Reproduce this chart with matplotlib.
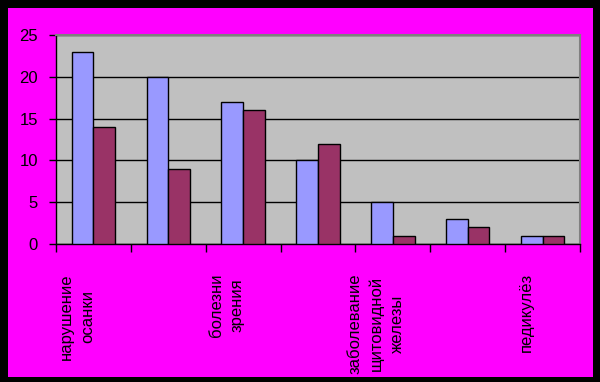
import matplotlib
matplotlib.use("Agg")
import matplotlib.pyplot as plt
from matplotlib.patches import Rectangle
import numpy as np

# categories (only every other label is shown in the source chart)
labels = ["нарушение\nосанки", "", "болезни\nзрения", "",
          "заболевание\nщитовидной\nжелезы", "", "педикулёз"]
series_a = [23, 20, 17, 10, 5, 3, 1]
series_b = [14, 9, 16, 12, 1, 2, 1]
yticks = [0, 5, 10, 15, 20, 25]

plt.rcParams["font.family"] = ["Liberation Sans", "DejaVu Sans"]

fig = plt.figure(figsize=(6, 3.82), dpi=100, facecolor="black")
fig.add_artist(Rectangle((8 / 600, 5 / 382), 585 / 600, 369 / 382,
                         transform=fig.transFigure, facecolor="#FF00FF",
                         edgecolor="none", zorder=-10))

ax = fig.add_axes([56 / 600, (382 - 244) / 382, 524 / 600, 209 / 382])
ax.set_zorder(5)
ax.set_facecolor("#C0C0C0")

x = np.arange(len(labels))
w = 0.29
ax.bar(x - w / 2, series_a, w, color="#9999FF", edgecolor="black",
       linewidth=1, zorder=3)
ax.bar(x + w / 2, series_b, w, color="#993366", edgecolor="black",
       linewidth=1, zorder=3)

ax.set_xlim(-0.5, len(labels) - 0.5)
ax.set_ylim(0, 25)
ax.set_yticks(yticks)
ax.yaxis.grid(True, color="black", linewidth=1)
ax.set_axisbelow(True)
ax.tick_params(axis="y", direction="out", length=5, width=1, color="black",
               labelsize=12, labelcolor="black", pad=8)
ax.set_xticks(np.arange(len(labels) + 1) - 0.5)
ax.set_xticklabels([])
ax.tick_params(axis="x", direction="out", length=6, width=1, color="black")

for side in ("top", "right"):
    ax.spines[side].set_color("#808080")
    ax.spines[side].set_linewidth(1.5)
for side in ("left", "bottom"):
    ax.spines[side].set_color("black")
    ax.spines[side].set_linewidth(1)

for i, lab in enumerate(labels):
    if lab:
        ax.text(i - 0.22, -0.14, lab, transform=ax.get_xaxis_transform(),
                rotation=90, ha="center", va="top", multialignment="center",
                fontsize=12, color="black", linespacing=1.5)

fig.savefig("out.png", dpi=100, facecolor=fig.get_facecolor())
